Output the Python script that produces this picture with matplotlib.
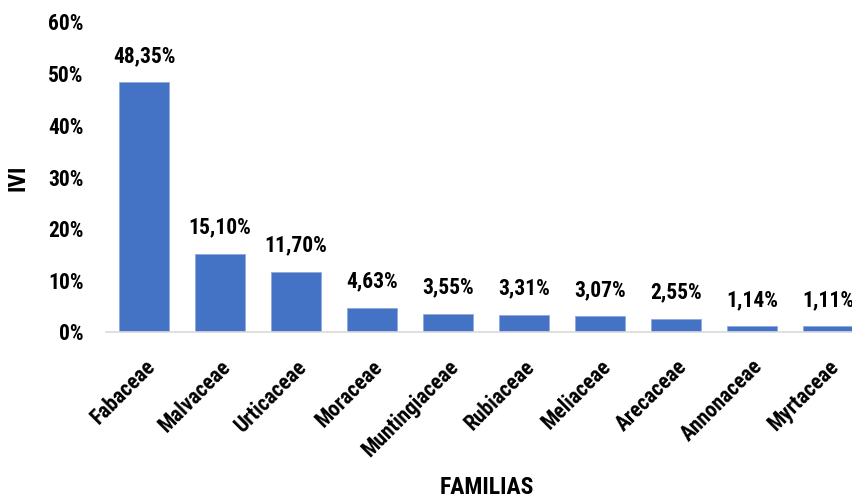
import matplotlib
matplotlib.use('Agg')
import matplotlib.pyplot as plt
from matplotlib.ticker import FuncFormatter

familias = ['Fabaceae', 'Malvaceae', 'Urticaceae', 'Moraceae', 'Muntingiaceae',
            'Rubiaceae', 'Meliaceae', 'Arecaceae', 'Annonaceae', 'Myrtaceae']
ivi = [48.35, 15.10, 11.70, 4.63, 3.55, 3.31, 3.07, 2.55, 1.14, 1.11]
etiquetas = ['48,35%', '15,10%', '11,70%', '4,63%', '3,55%',
             '3,31%', '3,07%', '2,55%', '1,14%', '1,11%']

plt.rcParams['font.family'] = ['Roboto Condensed', 'DejaVu Sans']
plt.rcParams['font.weight'] = 'bold'

fig = plt.figure(figsize=(8.52, 5.01), dpi=100)
ax = fig.add_axes([106 / 852, 169 / 501, 760 / 852, 310 / 501])

x = list(range(len(familias)))
ax.bar(x, ivi, width=0.66, color='#4472C4', edgecolor='#8FAADC', linewidth=0.6, zorder=2)
for xi, v, lab in zip(x, ivi, etiquetas):
    ax.annotate(lab, (xi, v), xytext=(0, 11), textcoords='offset points',
                ha='center', va='bottom', fontsize=15.5, fontweight='bold')

ax.set_xlim(-0.5, len(familias) - 0.5)
ax.set_ylim(0, 60)
ax.set_yticks(range(0, 61, 10))
ax.yaxis.set_major_formatter(FuncFormatter(lambda v, p: '%d%%' % v))
ax.set_xticks(x)
ax.set_xticklabels(familias, rotation=45, ha='right', va='top', rotation_mode='anchor')
ax.tick_params(axis='both', length=0, labelsize=15.5)
ax.tick_params(axis='y', pad=16)
ax.tick_params(axis='x', pad=17)

for s in ['top', 'right', 'left']:
    ax.spines[s].set_visible(False)
ax.spines['bottom'].set_color('#D9D9D9')
ax.spines['bottom'].set_linewidth(1.2)

fig.text(487 / 852, 1 - 487 / 501, 'FAMILIAS', ha='center', va='center', fontsize=17, fontweight='bold')
fig.text(18 / 852, 1 - 178 / 501, 'IVI', ha='center', va='center', rotation=90, fontsize=17, fontweight='bold')

fig.savefig('out.png', dpi=100)
